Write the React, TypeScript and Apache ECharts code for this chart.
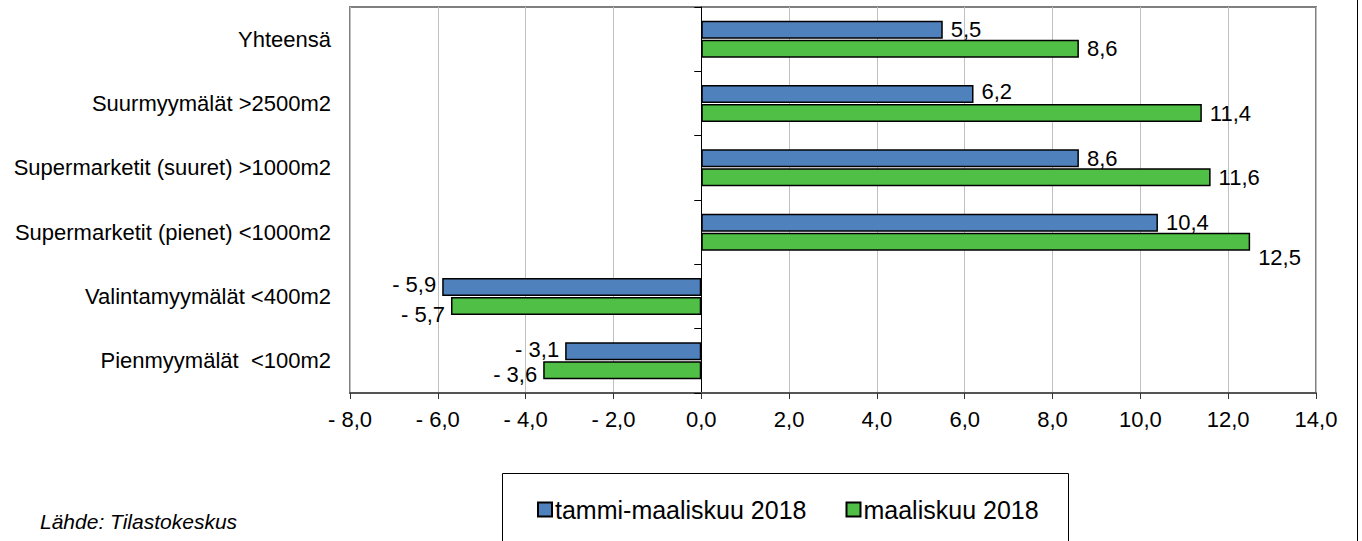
import React, { useEffect, useRef } from "react";
import * as echarts from "echarts";

const categories = [
  "Yhteensä",
  "Suurmyymälät >2500m2",
  "Supermarketit (suuret) >1000m2",
  "Supermarketit (pienet) <1000m2",
  "Valintamyymälät <400m2",
  "Pienmyymälät  <100m2",
];
const seriesNames = ["tammi-maaliskuu 2018", "maaliskuu 2018"];
const janMarValues = [5.5, 6.2, 8.6, 10.4, -5.9, -3.1];
const marchValues = [8.6, 11.4, 11.6, 12.5, -5.7, -3.6];
const xMin = -8;
const xMax = 14;
const xInterval = 2;
const sourceText = "Lähde: Tilastokeskus";

// vertical label nudges (style only), per series, per category
const janMarLabelDy = [0, -2, 0, 0, -2, -2];
const marchLabelDy = [0, 0, 0, 16, 8, 4];

const FONT = "'Liberation Sans', Arial, sans-serif";

function fmt(v: number): string {
  const s = Math.abs(v).toFixed(1).replace(".", ",");
  return v < 0 ? "- " + s : s;
}

function toData(values: number[], dys: number[]) {
  return values.map((v, i) => ({
    value: v,
    label: {
      position: v < 0 ? "left" : "right",
      distance: v < 0 ? 6 : 8,
      offset: [0, dys[i]],
    },
  }));
}

export default function App() {
  const ref = useRef<HTMLDivElement>(null);
  useEffect(() => {
    if (!ref.current) return;
    const chart = echarts.init(ref.current, undefined, { renderer: "svg" });
    const labelStyle = {
      show: true,
      color: "#000",
      fontFamily: FONT,
      fontSize: 22,
      formatter: (p: any) => fmt(p.value),
    };
    chart.setOption({
      animation: false,
      backgroundColor: "#fff",
      textStyle: { fontFamily: FONT },
      grid: {
        left: 350,
        top: 7,
        width: 966,
        height: 386,
        show: true,
        borderColor: "#808080",
        borderWidth: 2,
        containLabel: false,
      },
      xAxis: {
        type: "value",
        min: xMin,
        max: xMax,
        interval: xInterval,
        axisLine: { show: true, onZero: false, lineStyle: { color: "#555", width: 2 } },
        axisTick: { show: true, length: 6, lineStyle: { color: "#333" } },
        axisLabel: {
          color: "#000",
          fontFamily: FONT,
          fontSize: 22,
          margin: 15,
          formatter: (v: number) => fmt(v),
        },
        splitLine: { show: true, lineStyle: { color: "#c0c0c0", width: 1 } },
      },
      yAxis: [
        {
          type: "category",
          data: categories,
          inverse: true,
          position: "left",
          axisLine: { show: false, onZero: false },
          axisTick: { show: false },
          axisLabel: {
            color: "#000",
            fontFamily: FONT,
            fontSize: 22,
            margin: 19,
          },
          splitLine: { show: false },
        },
        {
          type: "category",
          data: categories,
          inverse: true,
          position: "left",
          axisLine: { show: true, onZero: true, onZeroAxisIndex: 0, lineStyle: { color: "#000", width: 1 } },
          axisTick: { show: true, length: 7, lineStyle: { color: "#000" } },
          axisLabel: { show: false },
          splitLine: { show: false },
        },
      ],
      legend: {
        left: 537,
        top: 497,
        itemWidth: 14,
        itemHeight: 14,
        itemGap: 39,
        icon: "rect",
        padding: 0,
        textStyle: { color: "#000", fontFamily: FONT, fontSize: 25, padding: [0, 0, 0, -2] },
        data: seriesNames,
      },
      graphic: [
        {
          type: "rect",
          shape: { x: 502.5, y: 473.5, width: 566, height: 80 },
          style: { fill: "none", stroke: "#000", lineWidth: 1 },
          z: -1,
        },
        {
          type: "line",
          shape: { x1: 1357.5, y1: 0, x2: 1357.5, y2: 541 },
          style: { stroke: "#000", lineWidth: 1 },
        },
        {
          type: "text",
          left: 40,
          top: 511,
          style: {
            text: sourceText,
            fontFamily: FONT,
            fontSize: 21,
            fontStyle: "italic",
            fill: "#000",
          },
        },
      ],
      series: [
        {
          name: seriesNames[0],
          type: "bar",
          yAxisIndex: 0,
          data: toData(janMarValues, janMarLabelDy),
          barWidth: 18,
          barGap: "6%",
          itemStyle: { color: "#4F81BD", borderColor: "#000", borderWidth: 1.5 },
          label: labelStyle,
        },
        {
          name: seriesNames[1],
          type: "bar",
          yAxisIndex: 0,
          data: toData(marchValues, marchLabelDy),
          barWidth: 18,
          barGap: "6%",
          itemStyle: { color: "#50BF45", borderColor: "#000", borderWidth: 1.5 },
          label: labelStyle,
        },
      ],
    });
    return () => chart.dispose();
  }, []);
  return (
    <div
      ref={ref}
      style={{ position: "fixed", left: 0, top: 0, width: 1362, height: 541 }}
    />
  );
}
